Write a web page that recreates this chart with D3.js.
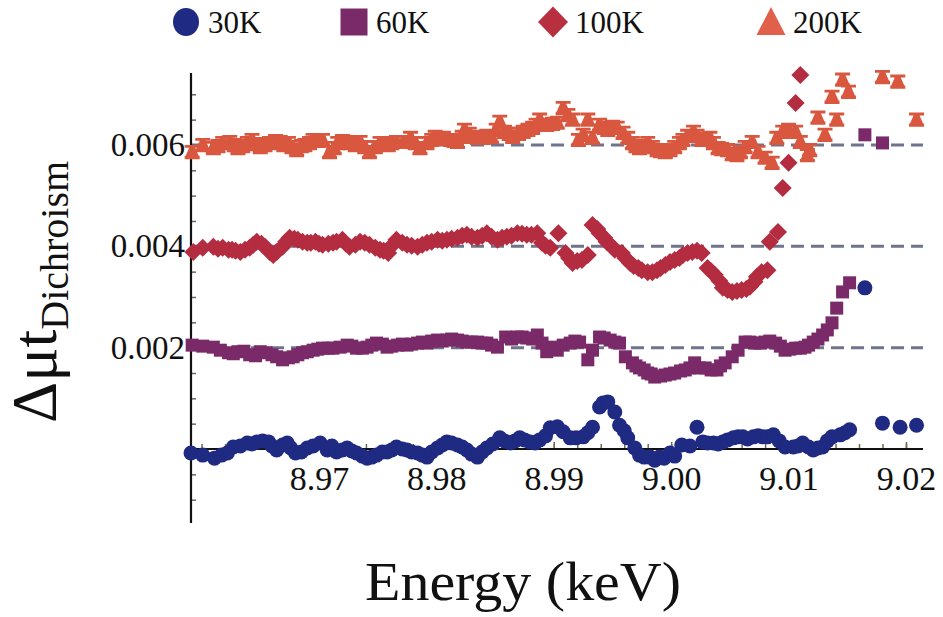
<!DOCTYPE html>
<html>
<head>
<meta charset="utf-8">
<script src="https://cdn.jsdelivr.net/npm/d3@7"></script>
<style>
  body { margin: 0; background: #fff; }
  svg { display: block; }
  svg text { font-family: "Liberation Serif", "DejaVu Serif", serif !important; fill: #111; }
</style>
</head>
<body>
<svg id="chart" width="943" height="617"></svg>
<script>
// Temperature series and their colours
const seriesNames = ["30K", "60K", "100K", "200K"];
const seriesColors = ["#1f2a82", "#7a2a69", "#b42c40", "#d9573f"];
const legendColors = ["#1f2a82", "#7a2a69", "#b8303f", "#e0604c"];

// Axis ticks and labels
const xTickValues = [8.97, 8.98, 8.99, 9.00, 9.01, 9.02];
const xTickLabels = ["8.97", "8.98", "8.99", "9.00", "9.01", "9.02"];
const yTickValues = [0.002, 0.004, 0.006];
const yTickLabels = ["0.002", "0.004", "0.006"];
const refLevels = [0.002, 0.004, 0.006];

// Dichroism signal [energy keV, Δμt] for each temperature (curves offset by 0.002)
const data30K = [
  [8.9591,-0.00008],[8.9601,-0.00012],[8.9611,-0.00018],[8.9617,-0.00012],[8.9622,-0.00008],
  [8.9627,0.00004],[8.9633,0.00006],[8.9639,0.00012],[8.9643,0.00010],[8.9647,0.00014],
  [8.9652,0.00016],[8.9657,0.00014],[8.9660,0.00006],[8.9664,-0.00002],[8.9669,0.00008],
  [8.9673,0.00012],[8.9676,0.00002],[8.9680,-0.00008],[8.9685,-0.00006],[8.9690,0.00002],
  [8.9695,0.00006],[8.9701,0.00012],[8.9707,-0.00002],[8.9711,0.00006],[8.9715,-0.00006],
  [8.9720,-0.00002],[8.9724,0.00002],[8.9728,-0.00004],[8.9732,-0.00008],[8.9737,-0.00014],
  [8.9741,-0.00018],[8.9745,-0.00016],[8.9749,-0.00012],[8.9754,-0.00006],[8.9758,-0.00006],
  [8.9762,-0.00002],[8.9766,0.00004],[8.9771,0.00000],[8.9775,-0.00002],[8.9779,-0.00006],
  [8.9784,-0.00008],[8.9788,-0.00012],[8.9792,-0.00016],[8.9796,-0.00006],[8.9801,0.00002],
  [8.9805,0.00008],[8.9809,0.00014],[8.9813,0.00012],[8.9818,0.00008],[8.9822,0.00004],
  [8.9826,-0.00002],[8.9830,-0.00010],[8.9835,-0.00016],[8.9839,-0.00006],[8.9843,0.00002],
  [8.9848,0.00010],[8.9854,0.00022],[8.9858,0.00016],[8.9863,0.00012],[8.9867,0.00016],
  [8.9871,0.00022],[8.9875,0.00018],[8.9880,0.00014],[8.9884,0.00012],[8.9888,0.00018],
  [8.9893,0.00026],[8.9897,0.00042],[8.9903,0.00044],[8.9908,0.00034],[8.9914,0.00022],
  [8.9919,0.00022],[8.9925,0.00024],[8.9929,0.00032],[8.9933,0.00043],[8.9939,0.00083],
  [8.9942,0.00091],[8.9946,0.00093],[8.9952,0.00073],[8.9956,0.00047],[8.9960,0.00036],
  [8.9963,0.00022],[8.9969,0.00002],[8.9973,-0.00012],[8.9977,-0.00016],[8.9982,-0.00016],
  [8.9986,-0.00022],[8.9990,-0.00016],[8.9994,-0.00018],[8.9999,-0.00008],[9.0003,-0.00014],
  [9.0009,0.00008],[9.0016,0.00006],[9.0022,0.00043],[9.0027,0.00014],[9.0031,0.00012],
  [9.0036,0.00012],[9.0040,0.00010],[9.0044,0.00014],[9.0048,0.00018],[9.0053,0.00022],
  [9.0057,0.00024],[9.0061,0.00024],[9.0065,0.00020],[9.0070,0.00024],[9.0074,0.00026],
  [9.0078,0.00024],[9.0082,0.00024],[9.0087,0.00028],[9.0092,0.00016],[9.0097,0.00004],
  [9.0104,0.00004],[9.0108,0.00006],[9.0112,0.00012],[9.0117,0.00004],[9.0121,-0.00002],
  [9.0125,0.00002],[9.0129,0.00004],[9.0133,0.00016],[9.0137,0.00024],[9.0144,0.00028],
  [9.0148,0.00032],[9.0152,0.00038],[9.0165,0.00318],
  [9.0180,0.00051],[9.0195,0.00043],[9.0209,0.00047]
];
const data60K = [
  [8.9592,0.00205],[8.9601,0.00203],[8.9610,0.00201],[8.9616,0.00195],[8.9623,0.00190],
  [8.9627,0.00188],[8.9631,0.00192],[8.9636,0.00193],[8.9641,0.00186],[8.9646,0.00184],
  [8.9650,0.00192],[8.9655,0.00190],[8.9660,0.00186],[8.9664,0.00182],[8.9669,0.00176],
  [8.9674,0.00180],[8.9678,0.00182],[8.9682,0.00186],[8.9686,0.00190],[8.9690,0.00192],
  [8.9695,0.00195],[8.9699,0.00197],[8.9703,0.00199],[8.9708,0.00199],[8.9712,0.00199],
  [8.9718,0.00201],[8.9724,0.00205],[8.9728,0.00203],[8.9732,0.00199],[8.9737,0.00199],
  [8.9741,0.00201],[8.9745,0.00205],[8.9749,0.00209],[8.9754,0.00207],[8.9758,0.00201],
  [8.9762,0.00203],[8.9767,0.00205],[8.9771,0.00207],[8.9775,0.00205],[8.9779,0.00207],
  [8.9784,0.00209],[8.9788,0.00211],[8.9792,0.00209],[8.9796,0.00213],[8.9801,0.00215],
  [8.9805,0.00213],[8.9809,0.00215],[8.9813,0.00217],[8.9818,0.00215],[8.9822,0.00213],
  [8.9826,0.00211],[8.9830,0.00211],[8.9835,0.00211],[8.9839,0.00209],[8.9843,0.00209],
  [8.9847,0.00205],[8.9852,0.00201],[8.9859,0.00221],[8.9864,0.00217],[8.9869,0.00221],
  [8.9873,0.00221],[8.9877,0.00219],[8.9882,0.00217],[8.9886,0.00225],[8.9890,0.00209],
  [8.9894,0.00192],[8.9899,0.00201],[8.9903,0.00195],[8.9908,0.00205],[8.9914,0.00209],
  [8.9918,0.00213],[8.9922,0.00211],[8.9929,0.00176],[8.9933,0.00195],[8.9939,0.00221],
  [8.9943,0.00219],[8.9948,0.00215],[8.9952,0.00211],[8.9956,0.00209],[8.9961,0.00182],
  [8.9967,0.00170],[8.9970,0.00164],[8.9973,0.00160],[8.9977,0.00156],[8.9980,0.00150],
  [8.9983,0.00148],[8.9986,0.00142],[8.9991,0.00144],[8.9995,0.00146],[8.9999,0.00148],
  [9.0003,0.00150],[9.0008,0.00154],[9.0012,0.00156],[9.0016,0.00160],[9.0020,0.00170],
  [9.0024,0.00160],[9.0029,0.00160],[9.0034,0.00156],[9.0039,0.00156],[9.0042,0.00164],
  [9.0046,0.00170],[9.0052,0.00182],[9.0057,0.00195],[9.0063,0.00211],[9.0067,0.00211],
  [9.0071,0.00209],[9.0076,0.00209],[9.0080,0.00211],[9.0084,0.00213],[9.0089,0.00209],
  [9.0093,0.00203],[9.0097,0.00195],[9.0101,0.00197],[9.0106,0.00199],[9.0110,0.00199],
  [9.0114,0.00201],[9.0117,0.00205],[9.0121,0.00211],[9.0125,0.00217],[9.0129,0.00225],
  [9.0133,0.00235],[9.0137,0.00249],[9.0141,0.00278],[9.0146,0.00310],[9.0152,0.00328],
  [9.0165,0.00620],[9.0180,0.00604]
];
const data100K = [
  [8.9593,0.00389],[8.9601,0.00397],[8.9610,0.00399],[8.9614,0.00395],[8.9618,0.00397],
  [8.9623,0.00393],[8.9626,0.00393],[8.9629,0.00391],[8.9633,0.00389],[8.9637,0.00393],
  [8.9641,0.00397],[8.9644,0.00403],[8.9647,0.00409],[8.9651,0.00405],[8.9654,0.00399],
  [8.9658,0.00389],[8.9661,0.00383],[8.9664,0.00389],[8.9669,0.00399],[8.9672,0.00409],
  [8.9675,0.00417],[8.9679,0.00415],[8.9682,0.00413],[8.9686,0.00409],[8.9690,0.00407],
  [8.9693,0.00407],[8.9697,0.00409],[8.9700,0.00405],[8.9703,0.00403],[8.9708,0.00405],
  [8.9712,0.00407],[8.9715,0.00409],[8.9720,0.00413],[8.9723,0.00405],[8.9726,0.00399],
  [8.9731,0.00403],[8.9735,0.00409],[8.9739,0.00407],[8.9743,0.00403],[8.9748,0.00397],
  [8.9752,0.00393],[8.9755,0.00391],[8.9759,0.00387],[8.9762,0.00401],[8.9766,0.00413],
  [8.9771,0.00407],[8.9775,0.00403],[8.9779,0.00401],[8.9784,0.00399],[8.9788,0.00403],
  [8.9792,0.00407],[8.9796,0.00409],[8.9801,0.00413],[8.9805,0.00411],[8.9809,0.00413],
  [8.9813,0.00415],[8.9818,0.00417],[8.9822,0.00421],[8.9826,0.00423],[8.9830,0.00419],
  [8.9835,0.00417],[8.9839,0.00421],[8.9843,0.00426],[8.9847,0.00419],[8.9852,0.00413],
  [8.9856,0.00417],[8.9860,0.00419],[8.9864,0.00421],[8.9869,0.00426],[8.9873,0.00425],
  [8.9877,0.00423],[8.9881,0.00423],[8.9886,0.00426],[8.9890,0.00407],[8.9893,0.00401],
  [8.9897,0.00397],[8.9904,0.00426],[8.9910,0.00387],[8.9913,0.00377],[8.9916,0.00367],
  [8.9920,0.00371],[8.9924,0.00373],[8.9929,0.00383],[8.9933,0.00442],[8.9937,0.00434],
  [8.9939,0.00426],[8.9943,0.00417],[8.9945,0.00409],[8.9949,0.00401],[8.9952,0.00393],
  [8.9958,0.00387],[8.9961,0.00377],[8.9965,0.00367],[8.9968,0.00361],[8.9972,0.00357],
  [8.9975,0.00353],[8.9980,0.00349],[8.9984,0.00349],[8.9988,0.00353],[8.9991,0.00357],
  [8.9995,0.00363],[8.9999,0.00369],[9.0003,0.00373],[9.0007,0.00377],[9.0010,0.00383],
  [9.0014,0.00387],[9.0018,0.00389],[9.0022,0.00391],[9.0026,0.00387],[9.0031,0.00357],
  [9.0034,0.00351],[9.0037,0.00344],[9.0041,0.00332],[9.0044,0.00318],[9.0048,0.00314],
  [9.0052,0.00310],[9.0056,0.00312],[9.0060,0.00314],[9.0064,0.00316],[9.0067,0.00320],
  [9.0071,0.00330],[9.0073,0.00340],[9.0077,0.00349],[9.0082,0.00353],[9.0084,0.00409],
  [9.0091,0.00428],[9.0095,0.00515],[9.0100,0.00565],[9.0106,0.00683],[9.0110,0.00738]
];
const data200K = [
  [8.9592,0.00586],[8.9601,0.00600],[8.9610,0.00594],[8.9614,0.00598],[8.9618,0.00604],
  [8.9624,0.00606],[8.9628,0.00600],[8.9631,0.00594],[8.9635,0.00598],[8.9639,0.00604],
  [8.9643,0.00610],[8.9646,0.00602],[8.9650,0.00596],[8.9654,0.00600],[8.9658,0.00604],
  [8.9663,0.00608],[8.9667,0.00606],[8.9670,0.00600],[8.9674,0.00604],[8.9677,0.00596],
  [8.9681,0.00590],[8.9685,0.00598],[8.9688,0.00600],[8.9692,0.00604],[8.9695,0.00610],
  [8.9699,0.00608],[8.9703,0.00610],[8.9709,0.00586],[8.9713,0.00594],[8.9716,0.00604],
  [8.9720,0.00608],[8.9724,0.00606],[8.9727,0.00604],[8.9731,0.00600],[8.9735,0.00606],
  [8.9739,0.00596],[8.9743,0.00586],[8.9748,0.00596],[8.9752,0.00604],[8.9756,0.00602],
  [8.9759,0.00600],[8.9762,0.00604],[8.9766,0.00606],[8.9772,0.00606],[8.9778,0.00614],
  [8.9782,0.00604],[8.9786,0.00594],[8.9792,0.00604],[8.9796,0.00610],[8.9799,0.00616],
  [8.9802,0.00612],[8.9806,0.00614],[8.9812,0.00610],[8.9815,0.00608],[8.9818,0.00606],
  [8.9822,0.00616],[8.9824,0.00630],[8.9828,0.00622],[8.9831,0.00616],[8.9835,0.00614],
  [8.9840,0.00614],[8.9843,0.00618],[8.9847,0.00616],[8.9851,0.00630],[8.9854,0.00646],
  [8.9858,0.00626],[8.9862,0.00622],[8.9865,0.00616],[8.9870,0.00622],[8.9874,0.00626],
  [8.9878,0.00630],[8.9882,0.00634],[8.9885,0.00640],[8.9888,0.00650],[8.9894,0.00640],
  [8.9899,0.00642],[8.9903,0.00644],[8.9908,0.00673],[8.9912,0.00659],[8.9916,0.00650],
  [8.9921,0.00610],[8.9925,0.00620],[8.9929,0.00650],[8.9933,0.00614],[8.9939,0.00640],
  [8.9943,0.00634],[8.9946,0.00630],[8.9950,0.00636],[8.9954,0.00634],[8.9959,0.00624],
  [8.9963,0.00614],[8.9967,0.00604],[8.9970,0.00598],[8.9973,0.00594],[8.9977,0.00598],
  [8.9980,0.00604],[8.9984,0.00596],[8.9988,0.00590],[8.9991,0.00588],[8.9995,0.00586],
  [8.9999,0.00590],[9.0003,0.00596],[9.0007,0.00604],[9.0010,0.00610],[9.0014,0.00618],
  [9.0019,0.00626],[9.0022,0.00618],[9.0026,0.00610],[9.0029,0.00612],[9.0033,0.00614],
  [9.0036,0.00604],[9.0040,0.00594],[9.0043,0.00592],[9.0048,0.00590],[9.0052,0.00582],
  [9.0056,0.00580],[9.0059,0.00586],[9.0063,0.00596],[9.0069,0.00606],[9.0074,0.00586],
  [9.0080,0.00575],[9.0086,0.00565],[9.0090,0.00614],[9.0095,0.00626],[9.0100,0.00630],
  [9.0106,0.00626],[9.0110,0.00606],[9.0116,0.00580],[9.0118,0.00590],[9.0125,0.00654],
  [9.0131,0.00620],[9.0137,0.00695],[9.0141,0.00650],[9.0146,0.00729],[9.0151,0.00705],
  [9.0180,0.00734],[9.0193,0.00725],[9.0209,0.00650]
];
const seriesData = [data30K, data60K, data100K, data200K];

const svg = d3.select("#chart");

const x = d3.scaleLinear().domain([8.9591, 9.02145]).range([191, 923]);
const y = d3.scaleLinear().domain([-0.00146, 0.00742]).range([523, 73]);

// Marker shapes: circle, square, diamond, capped triangle (error-bar look)
const markerPaths = [
  d3.symbol().type(d3.symbolCircle).size(Math.PI * 7.5 * 7.5)(),
  d3.symbol().type(d3.symbolSquare).size(13 * 13)(),
  "M0,-9L9,0L0,9L-9,0Z",
  "M-7.5,-7H7.5V-4.2H3L6.5,3.8H7.5V7.2H-7.5V3.8H-6.5L-3,-4.2H-7.5Z"
];
const legendPaths = [
  "M0,-14A13,14 0 1,1 0,14A13,14 0 1,1 0,-14Z",
  d3.symbol().type(d3.symbolSquare).size(27 * 27)(),
  "M0,-15.5L15,0L0,15.5L-15,0Z",
  "M0,-15L14.5,13L-14.5,13Z"
];

// Dashed reference levels
svg.append("g").selectAll("line").data(refLevels).join("line")
  .attr("x1", x.range()[0]).attr("x2", x.range()[1])
  .attr("y1", d => y(d)).attr("y2", d => y(d))
  .attr("stroke", "#6f738c").attr("stroke-width", 3)
  .attr("stroke-dasharray", "13,7");

// X axis (ticks point up into the plot)
const xAxisG = svg.append("g").attr("transform", `translate(0,${y(0)})`);
xAxisG.append("g")
  .call(d3.axisBottom(x).tickValues(d3.range(8.96, 9.0211, 0.002)).tickSize(-5).tickFormat(""))
  .call(g => g.select(".domain").remove())
  .call(g => g.selectAll("line").attr("stroke", "#6a6a5a").attr("stroke-width", 1.5));
xAxisG.append("g")
  .call(d3.axisBottom(x).tickValues(xTickValues).tickSize(-7).tickPadding(17)
    .tickFormat((d, i) => xTickLabels[i]))
  .call(g => g.select(".domain").remove())
  .call(g => g.selectAll("line").attr("stroke", "#6a6a5a").attr("stroke-width", 1.5))
  .call(g => g.selectAll("text").attr("font-size", 34).attr("fill", "#111"));

// Y axis (ticks point right into the plot)
const yAxisG = svg.append("g").attr("transform", `translate(${x.range()[0]},0)`);
yAxisG.append("g")
  .call(d3.axisLeft(y).tickValues(d3.range(-0.001, 0.00701, 0.0005)).tickSize(-5).tickFormat(""))
  .call(g => g.select(".domain").remove())
  .call(g => g.selectAll("line").attr("stroke", "#6a6a5a").attr("stroke-width", 1.5));
yAxisG.append("g")
  .call(d3.axisLeft(y).tickValues(yTickValues).tickSize(0).tickPadding(6)
    .tickFormat((d, i) => yTickLabels[i]))
  .call(g => g.select(".domain").remove())
  .call(g => g.selectAll("text").attr("font-size", 33).attr("fill", "#111"));

// Axis lines
svg.append("line")
  .attr("x1", x.range()[0]).attr("x2", x.range()[1])
  .attr("y1", y(0)).attr("y2", y(0))
  .attr("stroke", "#111").attr("stroke-width", 2.2);
svg.append("line")
  .attr("x1", x.range()[0]).attr("x2", x.range()[0])
  .attr("y1", y.range()[1]).attr("y2", y.range()[0])
  .attr("stroke", "#111").attr("stroke-width", 2.2);

// Data markers, warmest drawn first
[3, 2, 1, 0].forEach(k => {
  svg.append("g").selectAll("path").data(seriesData[k]).join("path")
    .attr("d", markerPaths[k])
    .attr("transform", d => `translate(${x(d[0])},${y(d[1])})`)
    .attr("fill", seriesColors[k]);
});

// Legend
const legendX = [186, 354, 553, 771];
const legend = svg.append("g");
seriesNames.forEach((name, k) => {
  legend.append("path")
    .attr("d", legendPaths[k])
    .attr("transform", `translate(${legendX[k]},22)`)
    .attr("fill", legendColors[k]);
  legend.append("text")
    .attr("x", legendX[k] + 22).attr("y", 33)
    .attr("font-size", 31)
    .text(name);
});

// Axis titles
svg.append("text")
  .attr("x", 523).attr("y", 600)
  .attr("text-anchor", "middle")
  .attr("font-size", 54)
  .attr("textLength", 316).attr("lengthAdjust", "spacingAndGlyphs")
  .text("Energy (keV)");

const yTitle = svg.append("text")
  .attr("transform", "translate(56,423) rotate(-90)");
yTitle.append("tspan").attr("font-size", 64).text("Δμt");
yTitle.append("tspan").attr("font-size", 40).attr("dy", 12).text("Dichroism");
</script>
</body>
</html>
